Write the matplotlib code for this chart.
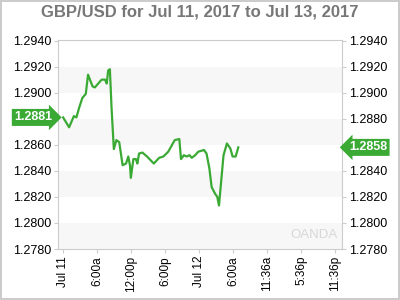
import matplotlib
matplotlib.use("Agg")
import matplotlib.pyplot as plt

plt.rcParams["font.family"] = ["Liberation Sans", "DejaVu Sans"]

# hours since Jul 11 00:00 and GBP/USD rate
hours = [0.0, 1.06, 1.9, 2.35, 2.8, 3.4, 4.0, 4.4, 5.2, 5.6, 6.2, 6.8, 7.4, 7.7, 7.95,
         8.25, 8.55, 8.95, 9.4, 9.9, 10.5, 11.1, 11.5, 11.8, 11.95, 12.4, 12.85, 13.1,
         13.4, 14.0, 14.8, 16.0, 16.95, 17.7, 18.55, 19.7, 20.5, 20.8, 21.3, 21.8, 22.3,
         22.7, 23.3, 23.85, 24.85, 25.3, 25.8, 26.2, 26.8, 27.2, 27.5, 28.3, 28.9, 29.5,
         29.9, 30.45, 30.9]
rates = [1.2881, 1.28734, 1.2882, 1.2881, 1.2888, 1.2896, 1.2899, 1.29138, 1.29048,
         1.2904, 1.2907, 1.2910, 1.2910, 1.2907, 1.2917, 1.2918, 1.2888, 1.28567, 1.28636,
         1.2862, 1.28443, 1.28456, 1.2851, 1.2844, 1.28346, 1.2849, 1.2849, 1.28456,
         1.28533, 1.2854, 1.2851, 1.28456, 1.2850, 1.2851, 1.28547, 1.28636, 1.28644,
         1.2849, 1.2852, 1.2851, 1.2852, 1.2850, 1.2852, 1.28547, 1.2856, 1.28533, 1.2842,
         1.28276, 1.28225, 1.2820, 1.28134, 1.2852, 1.2861, 1.28572, 1.2851, 1.2851, 1.2858]

x_ticks = [0, 6, 12, 18, 24, 30, 36, 42, 48]
x_labels = ["Jul 11", "6:00a", "12:00p", "6:00p", "Jul 12", "6:00a", "11:36a", "5:36p", "11:36p"]
y_ticks = [1.2780, 1.2800, 1.2820, 1.2840, 1.2860, 1.2880, 1.2900, 1.2920, 1.2940]
first_label = "1.2881"
last_label = "1.2858"

green = "#3aaa35"
grid_gray = "#cccccc"

fig = plt.figure(figsize=(4, 3), dpi=100)
fig.patch.set_edgecolor("#cccccc")
fig.patch.set_linewidth(1.5)
ax = fig.add_axes([0.145, 0.17, 0.71, 0.697])

for lo in (1.2780, 1.2820, 1.2860, 1.2900):
    ax.axhspan(lo, lo + 0.0020, color="#f7f7f7", zorder=0, lw=0)

ax.plot(hours, rates, color=green, lw=1.6, zorder=3)

ax.set_xlim(-0.9, 49.2)
ax.set_ylim(1.2780, 1.29405)
ax.set_xticks(x_ticks)
ax.set_xticklabels(x_labels, rotation=90, fontsize=8.5)
ax.set_yticks(y_ticks)
ax.set_yticklabels([f"{v:.4f}" for v in y_ticks], fontsize=9)
ax.tick_params(axis="y", which="both", left=True, right=True, labelleft=True, labelright=True,
               length=3, color=grid_gray, pad=2)
ax.tick_params(axis="x", length=3, color=grid_gray, pad=2)
for sp in ax.spines.values():
    sp.set_color(grid_gray)

ax.set_title("GBP/USD for Jul 11, 2017 to Jul 13, 2017", fontsize=12, fontweight="bold",
             color="#777777", pad=17)

ax.text(0.985, 0.04, "OANDA", transform=ax.transAxes, ha="right", va="bottom",
        fontsize=9.5, color="#d8d8d8", zorder=1)

# price tags (they sit over the axis labels, as in the source chart)
ax.annotate(first_label, xy=(0.0, rates[0]), xycoords=("axes fraction", "data"),
            xytext=(-4, 0), textcoords="offset points", ha="right", va="center",
            fontsize=9, fontweight="bold", color="white", annotation_clip=False, zorder=10,
            bbox=dict(boxstyle="rarrow,pad=0.2", fc=green, ec="none"))
ax.annotate(last_label, xy=(1.0, rates[-1]), xycoords=("axes fraction", "data"),
            xytext=(5, 0), textcoords="offset points", ha="left", va="center",
            fontsize=9, fontweight="bold", color="white", annotation_clip=False, zorder=10,
            bbox=dict(boxstyle="larrow,pad=0.2", fc=green, ec="none"))

fig.savefig("out.png", dpi=100, edgecolor=fig.get_edgecolor())
